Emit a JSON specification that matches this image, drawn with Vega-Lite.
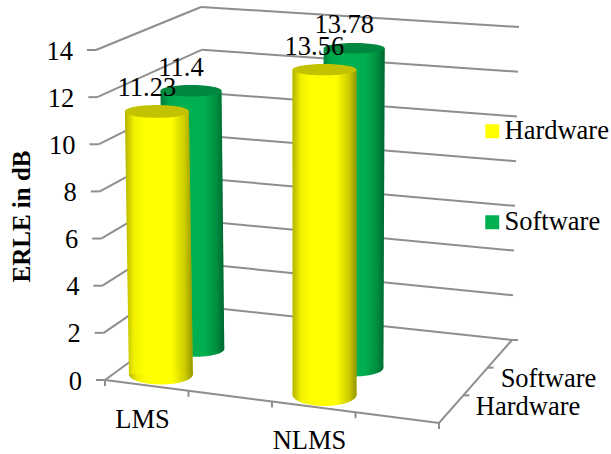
{
  "$schema": "https://vega.github.io/schema/vega-lite/v6.json",
  "width": 611,
  "height": 454,
  "padding": 0,
  "autosize": {"type": "none"},
  "background": "white",
  "config": {"view": {"stroke": null}, "text": {"font": "Liberation Serif", "fontSize": 26.5, "color": "black"}},
  "datasets": {
    "results": [
      {"method": "LMS", "series": "Hardware", "erle": 11.23},
      {"method": "NLMS", "series": "Hardware", "erle": 13.56},
      {"method": "LMS", "series": "Software", "erle": 11.4},
      {"method": "NLMS", "series": "Software", "erle": 13.78}
    ],
    "gridValues": [{"erle": 0}, {"erle": 2}, {"erle": 4}, {"erle": 6}, {"erle": 8}, {"erle": 10}, {"erle": 12}, {"erle": 14}],
    "floorEdge": [
      {"edge": "front", "step": 0}, {"edge": "front", "step": 1}, {"edge": "front", "step": 2}, {"edge": "front", "step": 3}, {"edge": "front", "step": 4},
      {"edge": "side", "step": 1}, {"edge": "side", "step": 2}, {"edge": "side", "step": 3}
    ],
    "methods": [{"method": "LMS"}, {"method": "NLMS"}],
    "seriesNames": [{"series": "Hardware"}, {"series": "Software"}]
  },
  "encoding": {
    "x": {"field": "sx", "type": "quantitative", "axis": null, "scale": {"domain": [0, 611], "nice": false, "zero": false}},
    "y": {"field": "sy", "type": "quantitative", "scale": {"domain": [454, 0], "nice": false, "zero": false},
      "axis": {"title": "ERLE in dB", "labels": false, "ticks": false, "domain": false, "grid": false, "titleFont": "Liberation Serif", "titleFontSize": 25, "titleFontWeight": "bold", "titleColor": "black", "titleX": 34, "titleY": 216}}
  },
  "layer": [
    {
      "data": {"name": "gridValues"},
      "transform": [
        {"calculate": "datum.erle / 14", "as": "v"},
        {"calculate": "lerp([105, 96], datum.v)", "as": "sx"},
        {"calculate": "lerp([380, 50], datum.v)", "as": "sy"},
        {"calculate": "lerp([205, 201], datum.v)", "as": "backX"},
        {"calculate": "lerp([307, 7], datum.v)", "as": "backY"},
        {"calculate": "lerp([512, 519], datum.v)", "as": "rightX"},
        {"calculate": "lerp([340, 27], datum.v)", "as": "rightY"},
        {"calculate": "datum.sx - 9", "as": "tickX"}
      ],
      "layer": [
        {"mark": {"type": "rule", "color": "#8e8e8e", "strokeWidth": 2},
          "encoding": {"x2": {"field": "backX"}, "y2": {"field": "backY"}}},
        {"transform": [
            {"calculate": "datum.backX", "as": "sx"},
            {"calculate": "datum.backY", "as": "sy"}
          ],
          "mark": {"type": "rule", "color": "#8e8e8e", "strokeWidth": 2},
          "encoding": {"x2": {"field": "rightX"}, "y2": {"field": "rightY"}}},
        {"mark": {"type": "rule", "color": "#8e8e8e", "strokeWidth": 2},
          "encoding": {"x2": {"field": "tickX"}}},
        {"mark": {"type": "text", "align": "right", "baseline": "middle", "dx": -23, "dy": 1.5},
          "encoding": {"text": {"field": "erle", "type": "quantitative"}}}
      ]
    },
    {
      "data": {"name": "floorEdge"},
      "transform": [
        {"calculate": "datum.edge == 'front' ? datum.step / 4 : 1", "as": "u"},
        {"calculate": "datum.edge == 'side' ? datum.step / 3 : 0", "as": "d"},
        {"calculate": "lerp([lerp([105, 439], datum.u), lerp([205, 512], datum.u)], datum.d)", "as": "sx"},
        {"calculate": "lerp([lerp([380, 423], datum.u), lerp([307, 340], datum.u)], datum.d)", "as": "sy"},
        {"calculate": "datum.edge == 'side' ? datum.sx + 6 : datum.sx", "as": "tickX"},
        {"calculate": "datum.edge == 'front' ? datum.sy + 6 : datum.sy", "as": "tickY"}
      ],
      "layer": [
        {"mark": {"type": "line", "color": "#8e8e8e", "strokeWidth": 2}},
        {"mark": {"type": "rule", "color": "#8e8e8e", "strokeWidth": 2},
          "encoding": {"x2": {"field": "tickX"}, "y2": {"field": "tickY"}}}
      ]
    },
    {
      "data": {"name": "methods"},
      "transform": [
        {"calculate": "datum.method == 'LMS' ? 0.25 : 0.75", "as": "u"},
        {"calculate": "lerp([105, 439], datum.u)", "as": "sx"},
        {"calculate": "lerp([380, 423], datum.u)", "as": "sy"}
      ],
      "mark": {"type": "text", "align": "center", "baseline": "alphabetic", "dx": -46, "dy": 37},
      "encoding": {"text": {"field": "method"}}
    },
    {
      "data": {"name": "seriesNames"},
      "transform": [
        {"calculate": "datum.series == 'Hardware' ? 0.285 : 0.625", "as": "d"},
        {"calculate": "lerp([439, 512], datum.d)", "as": "sx"},
        {"calculate": "lerp([423, 340], datum.d)", "as": "sy"}
      ],
      "mark": {"type": "text", "align": "left", "baseline": "alphabetic", "dx": 16, "dy": 16},
      "encoding": {"text": {"field": "series"}}
    },
    {
      "data": {"name": "results"},
      "transform": [
        {"calculate": "datum.method == 'LMS' ? 0.124 : 0.62", "as": "u"},
        {"calculate": "datum.series == 'Hardware' ? 0.15 : 0.49", "as": "d"},
        {"calculate": "0", "as": "base"},
        {"calculate": "datum.erle", "as": "top"},
        {"fold": ["base", "top"], "as": ["end", "level"]},
        {"calculate": "datum.level / 14", "as": "v"},
        {"calculate": "lerp([lerp([lerp([105, 439], datum.u), lerp([205, 512], datum.u)], datum.d), lerp([lerp([98, 442], datum.u), lerp([203, 519], datum.u)], datum.d)], datum.v)", "as": "sx"},
        {"calculate": "lerp([lerp([lerp([380, 423], datum.u), lerp([307, 340], datum.u)], datum.d), lerp([lerp([50, 76], datum.u), lerp([7, 27], datum.u)], datum.d)], datum.v)", "as": "sy"},
        {"calculate": "datum.series == 'Hardware' ? 32 : 30.5", "as": "radius"},
        {"calculate": "datum.sx - datum.radius", "as": "leftX"},
        {"calculate": "datum.sx + datum.radius", "as": "rightX"},
        {"calculate": "4 * datum.radius * datum.radius", "as": "capSize"},
        {"calculate": "lerp([0.32 + 0.06 * (datum.u - 0.124) - 0.18 * (datum.d - 0.15), 0.17], datum.v)", "as": "capRatio"},
        {"calculate": "'M-1 0A1 ' + datum.capRatio + ' 0 1 0 1 0A1 ' + datum.capRatio + ' 0 1 0 -1 0Z'", "as": "capPath"}
      ],
      "layer": [
        {
          "transform": [{"filter": "datum.series == 'Software'"}],
          "layer": [
            {"transform": [{"filter": "datum.end == 'base'"}],
              "mark": {"type": "point", "filled": true, "opacity": 1},
              "encoding": {
                "size": {"field": "capSize", "type": "quantitative", "scale": null},
                "shape": {"field": "capPath", "type": "nominal", "scale": null},
                "color": {"field": "series", "type": "nominal", "scale": {"domain": ["Hardware", "Software"], "range": ["#ffff00", "#00b050"]}, "legend": {"title": null, "orient": "none", "legendX": 479, "legendY": 118, "symbolType": "square", "symbolSize": 196, "symbolStrokeWidth": 0, "labelFont": "Liberation Serif", "labelFontSize": 26.5, "labelColor": "black", "rowPadding": 64, "labelOffset": -1}}}},
            {"transform": [{"filter": "datum.end == 'base'"}],
              "mark": {"type": "point", "filled": true, "opacity": 1, "fill": {"x1": 0, "y1": 0, "x2": 1, "y2": 0, "gradient": "linear", "stops": [{"offset": 0, "color": "rgba(0,0,0,0.3)"}, {"offset": 0.13, "color": "rgba(0,0,0,0.06)"}, {"offset": 0.3, "color": "rgba(0,0,0,0)"}, {"offset": 0.68, "color": "rgba(0,0,0,0)"}, {"offset": 0.88, "color": "rgba(0,0,0,0.2)"}, {"offset": 1, "color": "rgba(0,0,0,0.42)"}]}},
              "encoding": {
                "size": {"field": "capSize", "type": "quantitative", "scale": null},
                "shape": {"field": "capPath", "type": "nominal", "scale": null}}},
            {"mark": {"type": "area", "orient": "horizontal"},
              "encoding": {
                "x": {"field": "leftX", "type": "quantitative"},
                "x2": {"field": "rightX"},
                "detail": {"field": "method"},
                "color": {"field": "series", "type": "nominal"}}},
            {"mark": {"type": "area", "orient": "horizontal", "fill": {"x1": 0, "y1": 0, "x2": 1, "y2": 0, "gradient": "linear", "stops": [{"offset": 0, "color": "rgba(0,0,0,0.3)"}, {"offset": 0.13, "color": "rgba(0,0,0,0.06)"}, {"offset": 0.3, "color": "rgba(0,0,0,0)"}, {"offset": 0.68, "color": "rgba(0,0,0,0)"}, {"offset": 0.88, "color": "rgba(0,0,0,0.2)"}, {"offset": 1, "color": "rgba(0,0,0,0.42)"}]}},
              "encoding": {
                "x": {"field": "leftX", "type": "quantitative"},
                "x2": {"field": "rightX"},
                "detail": {"field": "method"}}},
            {"transform": [{"filter": "datum.end == 'top'"}],
              "mark": {"type": "point", "filled": true, "opacity": 1},
              "encoding": {
                "size": {"field": "capSize", "type": "quantitative", "scale": null},
                "shape": {"field": "capPath", "type": "nominal", "scale": null},
                "color": {"value": "#00873f"}}}
          ]
        },
        {
          "transform": [{"filter": "datum.series == 'Hardware'"}],
          "layer": [
            {"transform": [{"filter": "datum.end == 'base'"}],
              "mark": {"type": "point", "filled": true, "opacity": 1},
              "encoding": {
                "size": {"field": "capSize", "type": "quantitative", "scale": null},
                "shape": {"field": "capPath", "type": "nominal", "scale": null},
                "color": {"field": "series", "type": "nominal"}}},
            {"transform": [{"filter": "datum.end == 'base'"}],
              "mark": {"type": "point", "filled": true, "opacity": 1, "fill": {"x1": 0, "y1": 0, "x2": 1, "y2": 0, "gradient": "linear", "stops": [{"offset": 0, "color": "rgba(0,0,0,0.3)"}, {"offset": 0.13, "color": "rgba(0,0,0,0.06)"}, {"offset": 0.3, "color": "rgba(0,0,0,0)"}, {"offset": 0.68, "color": "rgba(0,0,0,0)"}, {"offset": 0.88, "color": "rgba(0,0,0,0.2)"}, {"offset": 1, "color": "rgba(0,0,0,0.42)"}]}},
              "encoding": {
                "size": {"field": "capSize", "type": "quantitative", "scale": null},
                "shape": {"field": "capPath", "type": "nominal", "scale": null}}},
            {"mark": {"type": "area", "orient": "horizontal"},
              "encoding": {
                "x": {"field": "leftX", "type": "quantitative"},
                "x2": {"field": "rightX"},
                "detail": {"field": "method"},
                "color": {"field": "series", "type": "nominal"}}},
            {"mark": {"type": "area", "orient": "horizontal", "fill": {"x1": 0, "y1": 0, "x2": 1, "y2": 0, "gradient": "linear", "stops": [{"offset": 0, "color": "rgba(0,0,0,0.3)"}, {"offset": 0.13, "color": "rgba(0,0,0,0.06)"}, {"offset": 0.3, "color": "rgba(0,0,0,0)"}, {"offset": 0.68, "color": "rgba(0,0,0,0)"}, {"offset": 0.88, "color": "rgba(0,0,0,0.2)"}, {"offset": 1, "color": "rgba(0,0,0,0.42)"}]}},
              "encoding": {
                "x": {"field": "leftX", "type": "quantitative"},
                "x2": {"field": "rightX"},
                "detail": {"field": "method"}}},
            {"transform": [{"filter": "datum.end == 'top'"}],
              "mark": {"type": "point", "filled": true, "opacity": 1},
              "encoding": {
                "size": {"field": "capSize", "type": "quantitative", "scale": null},
                "shape": {"field": "capPath", "type": "nominal", "scale": null},
                "color": {"value": "#c2c200"}}}
          ]
        },
        {
          "transform": [{"filter": "datum.end == 'top'"}],
          "mark": {"type": "text", "align": "center", "baseline": "alphabetic", "dx": -10, "dy": -15},
          "encoding": {"text": {"field": "erle", "type": "quantitative"}}
        }
      ]
    }
  ]
}
